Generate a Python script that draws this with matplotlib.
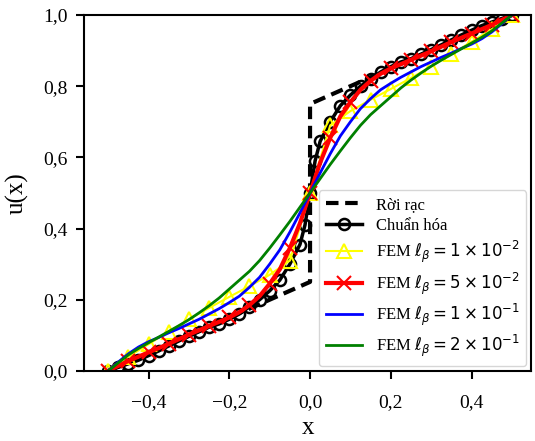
import numpy as np
import matplotlib
matplotlib.use("Agg")
import matplotlib.pyplot as plt
from matplotlib.ticker import FuncFormatter

plt.rcParams['font.family'] = ['Liberation Serif', 'DejaVu Serif']
plt.rcParams['mathtext.fontset'] = 'dejavusans'

# Roi rac (piecewise, jump at 0)
x_rr = [-0.5, 0.0, 0.0, 0.5]
u_rr = [0.0, 0.25, 0.75, 1.0]

# Chuan hoa
x_ch = [-0.5, -0.475, -0.45, -0.425, -0.4, -0.375, -0.35, -0.325, -0.3, -0.275,
        -0.25, -0.225, -0.2, -0.175, -0.15, -0.125, -0.1, -0.075, -0.05, -0.025,
        -0.0125, 0.0, 0.0125, 0.025, 0.05, 0.075, 0.1, 0.125, 0.15, 0.175, 0.2,
        0.225, 0.25, 0.275, 0.3, 0.325, 0.35, 0.375, 0.4, 0.425, 0.45, 0.475, 0.5]
u_ch = [0.0, 0.01, 0.02, 0.03, 0.043, 0.056, 0.07, 0.084, 0.097, 0.11,
        0.123, 0.132, 0.145, 0.16, 0.18, 0.2, 0.225, 0.255, 0.30, 0.355,
        0.41, 0.5, 0.59, 0.645, 0.70, 0.745, 0.775, 0.80, 0.82, 0.84, 0.855,
        0.868, 0.877, 0.89, 0.903, 0.916, 0.93, 0.944, 0.957, 0.97, 0.98, 0.99, 1.0]

# FEM l = 1e-2
x_f1 = [-0.5, -0.45, -0.4, -0.35, -0.3, -0.25, -0.2, -0.15, -0.1, -0.05, 0.0,
        0.05, 0.1, 0.15, 0.2, 0.25, 0.3, 0.35, 0.4, 0.45, 0.5]
u_f1 = [0.0, 0.04, 0.075, 0.11, 0.145, 0.177, 0.208, 0.238, 0.27, 0.31, 0.5,
        0.69, 0.73, 0.762, 0.792, 0.823, 0.855, 0.89, 0.925, 0.96, 1.0]

# shared grid for the smooth FEM curves
x_fem = [-0.5, -0.475, -0.45, -0.425, -0.4, -0.375, -0.35, -0.325, -0.3, -0.275,
         -0.25, -0.225, -0.2, -0.175, -0.15, -0.125, -0.1, -0.075, -0.05, -0.025,
         0.0, 0.025, 0.05, 0.075, 0.1, 0.125, 0.15, 0.175, 0.2, 0.225, 0.25,
         0.275, 0.3, 0.325, 0.35, 0.375, 0.4, 0.425, 0.45, 0.475, 0.5]

# FEM l = 5e-2
u_f5 = [0.0, 0.014, 0.028, 0.04, 0.052, 0.064, 0.076, 0.089, 0.102, 0.114,
        0.126, 0.138, 0.15, 0.165, 0.185, 0.21, 0.245, 0.285, 0.345, 0.415,
        0.5, 0.585, 0.655, 0.715, 0.755, 0.79, 0.815, 0.835, 0.85, 0.862, 0.874,
        0.886, 0.898, 0.911, 0.924, 0.936, 0.948, 0.96, 0.972, 0.986, 1.0]

# FEM l = 1e-1
u_f10 = [0.0, 0.025, 0.048, 0.067, 0.082, 0.094, 0.107, 0.119, 0.132, 0.145,
         0.16, 0.175, 0.192, 0.21, 0.235, 0.263, 0.30, 0.34, 0.39, 0.444,
         0.5, 0.556, 0.61, 0.66, 0.70, 0.737, 0.765, 0.79, 0.808, 0.825, 0.84,
         0.855, 0.868, 0.881, 0.893, 0.906, 0.918, 0.933, 0.952, 0.975, 1.0]

# FEM l = 2e-1
u_f20 = [0.0, 0.023, 0.045, 0.063, 0.079, 0.095, 0.111, 0.127, 0.144, 0.163,
         0.183, 0.205, 0.23, 0.255, 0.28, 0.31, 0.345, 0.382, 0.42, 0.46,
         0.5, 0.54, 0.58, 0.618, 0.655, 0.69, 0.72, 0.745, 0.77, 0.795, 0.817,
         0.837, 0.856, 0.873, 0.889, 0.905, 0.921, 0.937, 0.955, 0.977, 1.0]

fig = plt.figure(figsize=(5.35, 4.41), dpi=100)
ax = fig.add_axes([0.157, 0.159, 0.836, 0.807])

ax.plot(x_rr, u_rr, 'k--', lw=3, dashes=(3, 1.6), label='Rời rạc')
ax.plot(x_ch, u_ch, 'k-', lw=2.5, marker='o', ms=8, mfc='none', mew=1.8,
        label='Chuẩn hóa')
ax.plot(x_f1, u_f1, color='yellow', lw=1.5, marker='^', ms=10, mfc='none', mew=1.5,
        label=r'FEM $\ell_\beta = 1 \times 10^{-2}$')
ax.plot(x_fem, u_f5, color='red', lw=3, marker='x', ms=10, mew=1.5, markevery=2,
        label=r'FEM $\ell_\beta = 5 \times 10^{-2}$')
ax.plot(x_fem, u_f10, color='blue', lw=2, label=r'FEM $\ell_\beta = 1 \times 10^{-1}$')
ax.plot(x_fem, u_f20, color='green', lw=2, label=r'FEM $\ell_\beta = 2 \times 10^{-1}$')

ax.set_xlim(-0.56, 0.548)
ax.set_ylim(0, 1)
ax.set_xticks([-0.4, -0.2, 0.0, 0.2, 0.4])
ax.set_yticks([0.0, 0.2, 0.4, 0.6, 0.8, 1.0])

fmt = FuncFormatter(lambda v, p: ('%.1f' % v).replace('.', ',').replace('-', '\u2212'))
ax.xaxis.set_major_formatter(fmt)
ax.yaxis.set_major_formatter(fmt)
ax.tick_params(labelsize=14, width=1.5, length=6)
ax.tick_params(axis='x', pad=11)
ax.tick_params(axis='y', pad=6)
for s in ax.spines.values():
    s.set_linewidth(1.5)

ax.set_xlabel('x', fontsize=18, labelpad=4)
ax.set_ylabel('u(x)', fontsize=18, labelpad=10)

ax.legend(loc='lower right', fontsize=12, borderaxespad=0.3, handlelength=2.2,
          labelspacing=0.3)

fig.savefig('out.png', dpi=100)
